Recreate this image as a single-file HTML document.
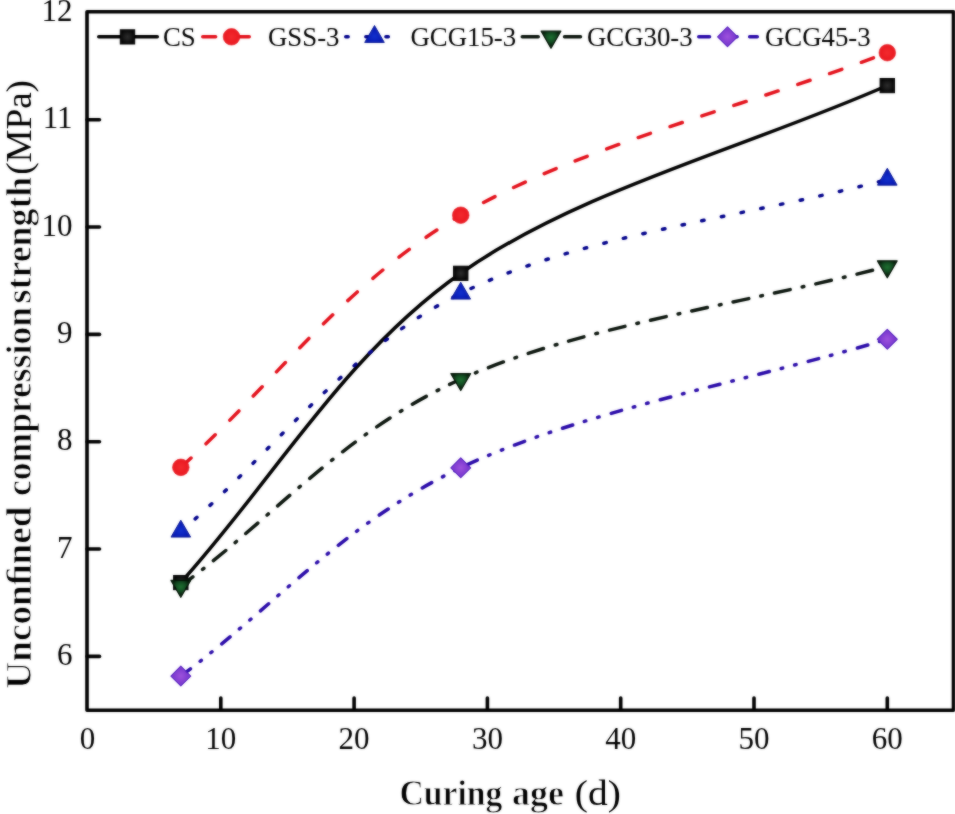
<!DOCTYPE html>
<html><head><meta charset="utf-8"><style>
html,body{margin:0;padding:0;background:#fff;overflow:hidden;}
svg{display:block;}
#w{width:955px;height:814px;will-change:transform;}
text{font-family:"Liberation Serif",serif;fill:#000;}
.tk{font-size:31px;}
.lg{font-size:26.8px;}
.ti{font-size:36px;}
.b{stroke:#fff;stroke-width:0.8px;}
</style></head><body><div id="w">
<svg width="955" height="814" viewBox="0 0 955 814">
<defs>
<filter id="bl" filterUnits="userSpaceOnUse" x="0" y="0" width="955" height="814" color-interpolation-filters="sRGB"><feGaussianBlur in="SourceGraphic" stdDeviation="1" result="b"/><feComposite in="SourceGraphic" in2="b" operator="arithmetic" k1="0" k2="0.5" k3="0.5" k4="0"/></filter>
<radialGradient id="gsq"><stop offset="0" stop-color="#2c2c2c"/><stop offset="1" stop-color="#080808"/></radialGradient>
<radialGradient id="gci"><stop offset="0" stop-color="#f22a2e"/><stop offset="1" stop-color="#ea1820"/></radialGradient>
<radialGradient id="gtu" cy="0.62"><stop offset="0" stop-color="#1230cc"/><stop offset="1" stop-color="#0718b0"/></radialGradient>
<radialGradient id="gtd" cy="0.38"><stop offset="0" stop-color="#1d6e30"/><stop offset="0.55" stop-color="#134c22"/><stop offset="1" stop-color="#041a08"/></radialGradient>
<radialGradient id="gdi"><stop offset="0" stop-color="#9c52dc"/><stop offset="1" stop-color="#7432cc"/></radialGradient>
</defs>
<g filter="url(#bl)">
<rect width="955" height="814" fill="#fff"/>
<path d="M87,11.7 V710.2 H953.5 V11.7 Z" fill="none" stroke="#000" stroke-width="3.6" stroke-linejoin="round"/>
<line x1="87" y1="656.40" x2="99.5" y2="656.40" stroke="#000" stroke-width="3.6" stroke-linecap="round"/>
<line x1="87" y1="549.06" x2="99.5" y2="549.06" stroke="#000" stroke-width="3.6" stroke-linecap="round"/>
<line x1="87" y1="441.72" x2="99.5" y2="441.72" stroke="#000" stroke-width="3.6" stroke-linecap="round"/>
<line x1="87" y1="334.38" x2="99.5" y2="334.38" stroke="#000" stroke-width="3.6" stroke-linecap="round"/>
<line x1="87" y1="227.04" x2="99.5" y2="227.04" stroke="#000" stroke-width="3.6" stroke-linecap="round"/>
<line x1="87" y1="119.70" x2="99.5" y2="119.70" stroke="#000" stroke-width="3.6" stroke-linecap="round"/>
<text x="72.5" y="664.90" text-anchor="end" class="tk">6</text>
<text x="72.5" y="557.56" text-anchor="end" class="tk">7</text>
<text x="72.5" y="450.22" text-anchor="end" class="tk">8</text>
<text x="72.5" y="342.88" text-anchor="end" class="tk">9</text>
<text x="72.5" y="235.54" text-anchor="end" class="tk">10</text>
<text x="72.5" y="128.20" text-anchor="end" class="tk">11</text>
<text x="72.5" y="20.86" text-anchor="end" class="tk">12</text>
<text x="87.50" y="749" text-anchor="middle" class="tk">0</text>
<line x1="220.80" y1="710" x2="220.80" y2="698" stroke="#000" stroke-width="3.6" stroke-linecap="round"/>
<text x="220.80" y="749" text-anchor="middle" class="tk">10</text>
<line x1="354.10" y1="710" x2="354.10" y2="698" stroke="#000" stroke-width="3.6" stroke-linecap="round"/>
<text x="354.10" y="749" text-anchor="middle" class="tk">20</text>
<line x1="487.40" y1="710" x2="487.40" y2="698" stroke="#000" stroke-width="3.6" stroke-linecap="round"/>
<text x="487.40" y="749" text-anchor="middle" class="tk">30</text>
<line x1="620.70" y1="710" x2="620.70" y2="698" stroke="#000" stroke-width="3.6" stroke-linecap="round"/>
<text x="620.70" y="749" text-anchor="middle" class="tk">40</text>
<line x1="754.00" y1="710" x2="754.00" y2="698" stroke="#000" stroke-width="3.6" stroke-linecap="round"/>
<text x="754.00" y="749" text-anchor="middle" class="tk">50</text>
<line x1="887.30" y1="710" x2="887.30" y2="698" stroke="#000" stroke-width="3.6" stroke-linecap="round"/>
<text x="887.30" y="749" text-anchor="middle" class="tk">60</text>
<path d="M180.81,582.48 C274.12,479.38 342.99,356.03 460.74,273.20 C578.49,190.37 745.11,148.07 887.30,85.50" fill="none" stroke="#000" stroke-width="3.5" stroke-linecap="round"/>
<rect x="173.61" y="575.48" width="14.4" height="14.2" fill="url(#gsq)" stroke="#000" stroke-width="1"/>
<rect x="453.54" y="266.20" width="14.4" height="14.2" fill="url(#gsq)" stroke="#000" stroke-width="1"/>
<rect x="880.10" y="78.50" width="14.4" height="14.2" fill="url(#gsq)" stroke="#000" stroke-width="1"/>
<path d="M180.81,467.34 C274.12,383.30 342.99,284.32 460.74,215.21 C578.49,146.10 745.11,106.86 887.30,52.69" fill="none" stroke="#e3101a" stroke-width="3.5" stroke-linecap="round" stroke-dasharray="12.9 20.7" stroke-dashoffset="-0.84"/>
<circle cx="180.81" cy="467.34" r="8.3" fill="url(#gci)" stroke="#e2141c" stroke-width="0.6"/>
<circle cx="460.74" cy="215.21" r="8.3" fill="url(#gci)" stroke="#e2141c" stroke-width="0.6"/>
<circle cx="887.30" cy="52.69" r="8.3" fill="url(#gci)" stroke="#e2141c" stroke-width="0.6"/>
<path d="M180.81,531.45 C274.12,452.12 342.99,352.12 460.74,293.46 C578.49,234.81 745.11,217.49 887.30,179.51" fill="none" stroke="#00008a" stroke-width="3.5" stroke-linecap="round" stroke-dasharray="2.4 17.68" stroke-dashoffset="1.05"/>
<path d="M180.81,520.18 L190.61,537.08 L171.01,537.08Z" fill="url(#gtu)" stroke="#00108e" stroke-width="0.9" stroke-linejoin="round"/>
<path d="M460.74,282.20 L470.54,299.10 L450.94,299.10Z" fill="url(#gtu)" stroke="#00108e" stroke-width="0.9" stroke-linejoin="round"/>
<path d="M887.30,168.24 L897.10,185.14 L877.50,185.14Z" fill="url(#gtu)" stroke="#00108e" stroke-width="0.9" stroke-linejoin="round"/>
<path d="M180.81,586.01 C274.12,517.08 342.99,432.48 460.74,379.22 C578.49,325.96 745.11,304.04 887.30,266.45" fill="none" stroke="#0a140c" stroke-width="3.5" stroke-linecap="round" stroke-dasharray="16.0 12.28 1.7 12.28" stroke-dashoffset="1.02"/>
<path d="M171.01,580.38 L190.61,580.38 L180.81,597.28Z" fill="url(#gtd)" stroke="#021405" stroke-width="1.3" stroke-linejoin="round"/>
<path d="M450.94,373.59 L470.54,373.59 L460.74,390.49Z" fill="url(#gtd)" stroke="#021405" stroke-width="1.3" stroke-linejoin="round"/>
<path d="M877.50,260.82 L897.10,260.82 L887.30,277.72Z" fill="url(#gtd)" stroke="#021405" stroke-width="1.3" stroke-linejoin="round"/>
<path d="M180.81,676.06 C274.12,606.63 342.99,523.91 460.74,467.77 C578.49,411.63 745.11,382.08 887.30,339.24" fill="none" stroke="#2809a8" stroke-width="3.5" stroke-linecap="round" stroke-dasharray="10.8 12.25 1.5 12.3 1.5 12.55" stroke-dashoffset="-1.18"/>
<path d="M180.81,666.16 L190.71,676.06 L180.81,685.96 L170.91,676.06Z" fill="url(#gdi)" stroke="#5620bf" stroke-width="1.1" stroke-linejoin="round"/>
<path d="M460.74,457.87 L470.64,467.77 L460.74,477.67 L450.84,467.77Z" fill="url(#gdi)" stroke="#5620bf" stroke-width="1.1" stroke-linejoin="round"/>
<path d="M887.30,329.34 L897.20,339.24 L887.30,349.14 L877.40,339.24Z" fill="url(#gdi)" stroke="#5620bf" stroke-width="1.1" stroke-linejoin="round"/>
<line x1="98.75" y1="36.8" x2="157.3" y2="36.8" stroke="#000" stroke-width="3.5" stroke-linecap="round"/>
<rect x="120.30" y="29.80" width="14.4" height="14.2" fill="url(#gsq)" stroke="#000" stroke-width="1"/>
<text x="163" y="45.8" class="lg">CS</text>
<line x1="202.75" y1="36.8" x2="261.3" y2="36.8" stroke="#e3101a" stroke-width="3.5" stroke-linecap="round" stroke-dasharray="12.9 20.7"/>
<circle cx="231.50" cy="36.80" r="8.3" fill="url(#gci)" stroke="#e2141c" stroke-width="0.6"/>
<text x="268" y="45.8" class="lg">GSS-3</text>
<line x1="345.75" y1="36.8" x2="404.3" y2="36.8" stroke="#00008a" stroke-width="3.5" stroke-linecap="round" stroke-dasharray="2.4 17.68"/>
<path d="M374.50,25.53 L384.30,42.43 L364.70,42.43Z" fill="url(#gtu)" stroke="#00108e" stroke-width="0.9" stroke-linejoin="round"/>
<text x="410.5" y="45.8" class="lg">GCG15-3</text>
<line x1="522.25" y1="36.8" x2="580.8" y2="36.8" stroke="#0a140c" stroke-width="3.5" stroke-linecap="round" stroke-dasharray="16.0 12.28 1.7 12.28"/>
<path d="M541.20,31.17 L560.80,31.17 L551.00,48.07Z" fill="url(#gtd)" stroke="#021405" stroke-width="1.3" stroke-linejoin="round"/>
<text x="587" y="45.8" class="lg">GCG30-3</text>
<line x1="698.75" y1="36.8" x2="757.3" y2="36.8" stroke="#2809a8" stroke-width="3.5" stroke-linecap="round" stroke-dasharray="10.8 12.25 1.5 12.3 1.5 12.55"/>
<path d="M727.50,26.90 L737.40,36.80 L727.50,46.70 L717.60,36.80Z" fill="url(#gdi)" stroke="#5620bf" stroke-width="1.1" stroke-linejoin="round"/>
<text x="765" y="45.8" class="lg">GCG45-3</text>
<text x="399.4" y="805" class="ti b" font-weight="bold" textLength="103" lengthAdjust="spacingAndGlyphs">Curing</text>
<text x="512" y="805" class="ti b" font-weight="bold">age</text>
<text x="574.8" y="805" class="ti" textLength="46" lengthAdjust="spacingAndGlyphs">(d)</text>
<text transform="translate(30.6,688.74) rotate(-90)" class="ti b" font-weight="bold" textLength="182.27" lengthAdjust="spacingAndGlyphs">Uncon&#xFB01;ned</text>
<text transform="translate(30.6,495.98) rotate(-90)" class="ti b" font-weight="bold" textLength="188.95" lengthAdjust="spacingAndGlyphs">compression</text>
<text transform="translate(30.6,303.49) rotate(-90)" class="ti b" font-weight="bold" textLength="126.77" lengthAdjust="spacingAndGlyphs">strength</text>
<text transform="translate(30.6,174.86) rotate(-90)" class="ti" font-weight="normal" textLength="94.86" lengthAdjust="spacingAndGlyphs">(MPa)</text>
</g>
</svg></div>
</body></html>
